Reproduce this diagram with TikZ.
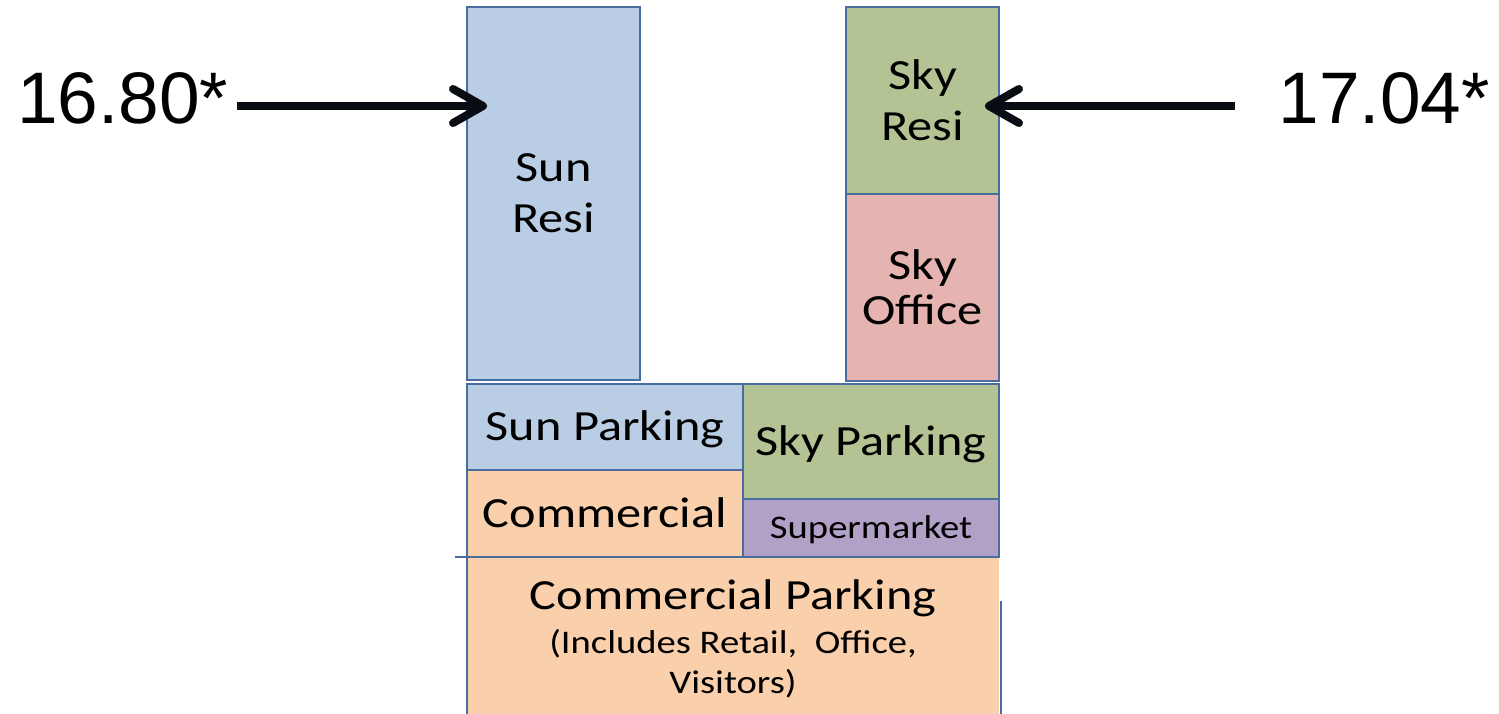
\documentclass[tikz,border=0pt]{standalone}
\usepackage{fontspec}
\usetikzlibrary{arrows.meta}
\newfontfamily\lblfont[FakeStretch=1.17]{Carlito}
\newfontfamily\numfont{Liberation Sans}

\definecolor{sunblue}{HTML}{B9CDE5}
\definecolor{skygreen}{HTML}{B3C393}
\definecolor{skypink}{HTML}{E5B3B0}
\definecolor{commorange}{HTML}{FAD0AC}
\definecolor{marketpurple}{HTML}{B1A1C7}
\definecolor{edgeblue}{HTML}{4A6D9F}
\definecolor{inkblack}{HTML}{0A0C14}

\tikzset{
  block/.style={draw=edgeblue, line width=2pt, inner sep=0pt, outer sep=0pt,
    anchor=north west, align=center, text=black,
    font=\lblfont\fontsize{43}{51}\selectfont},
  oneline/.style={text height=27pt, text depth=0pt},
  edgeline/.style={draw=edgeblue, line width=2pt},
  height mark/.style={font=\numfont\fontsize{73}{73}\selectfont, inner sep=0pt, text=black},
  pointer/.style={draw=inkblack, line width=8pt,
    -{Straight Barb[length=30pt, width=34pt, round]}},
}

\begin{document}
\begin{tikzpicture}[x=1pt, y=-1pt]
  \useasboundingbox (0,0) rectangle (1499,714);

  % towers
  \node[block, fill=sunblue, minimum width=173pt, minimum height=373pt]
    (sunresi) at (467,7) {Sun\\Resi};
  \node[block, fill=skygreen, minimum width=153pt, minimum height=187pt]
    (skyresi) at (846,7) {Sky\\Resi};
  \node[block, fill=skypink, minimum width=153pt, minimum height=187pt,
    font=\lblfont\fontsize{43}{45}\selectfont]
    (skyoffice) at (846,194) {Sky\\Office};

  % podium
  \node[block, oneline, fill=sunblue, minimum width=276pt, minimum height=86pt]
    (sunpark) at (467,384) {Sun Parking};
  \node[block, oneline, fill=skygreen, minimum width=256pt, minimum height=115pt]
    (skypark) at (743,384) {Sky Parking};
  \node[block, oneline, fill=commorange, minimum width=276pt, minimum height=87pt]
    (commercial) at (467,470) {Commercial};
  \node[block, fill=marketpurple, minimum width=256pt, minimum height=58pt,
    font=\lblfont\fontsize{33}{33}\selectfont, text height=21pt, text depth=0pt]
    (market) at (743,499) {Supermarket};

  % base level, running below the page edge
  \node[block, draw=none, fill=commorange, minimum width=532pt, minimum height=157pt]
    (cpark) at (467,557) {};
  \node[font=\lblfont\fontsize{33}{40}\selectfont, align=center, inner sep=0pt,
    anchor=base] (cparktext) at (733,693)
    {{\fontsize{43}{43}\selectfont Commercial Parking}\\[4pt]
     (Includes Retail,\ \ Office,\\Visitors)};
  \draw[edgeline] ([xshift=-12pt]cpark.north west) -- (cpark.north east);
  \draw[edgeline] (cpark.north west) -- (cpark.south west);
  \draw[edgeline] ([shift={(2,44)}]cpark.north east) -- ([xshift=2pt]cpark.south east);

  % building heights
  \node[height mark, anchor=base west] (hsun) at (17,124) {16.80*};
  \node[height mark, anchor=base east] (hsky) at (1490,124) {17.04*};
  \coordinate (sunhit) at (487,106);
  \coordinate (skyhit) at (985,106);
  \draw[pointer] ([xshift=9pt]hsun.east |- sunhit) -- (sunhit);
  \draw[pointer] ([xshift=-44pt]hsky.west |- skyhit) -- (skyhit);
\end{tikzpicture}
\end{document}
